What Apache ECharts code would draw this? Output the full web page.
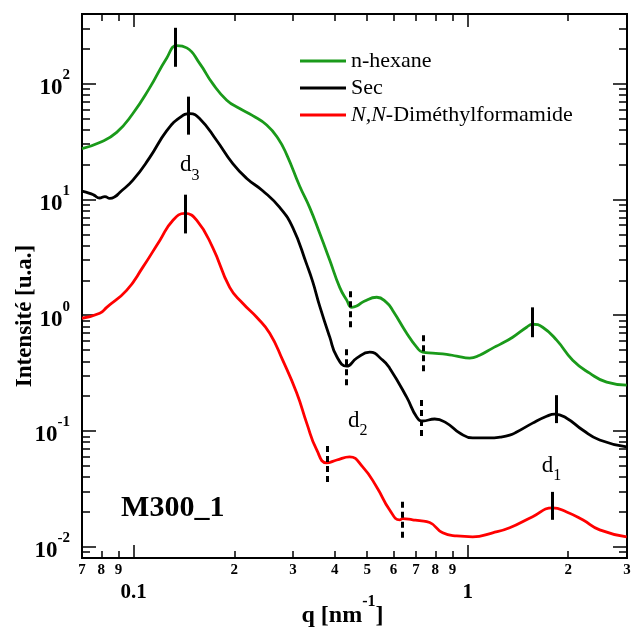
<!DOCTYPE html>
<html>
<head>
<meta charset="utf-8">
<script src="https://cdn.jsdelivr.net/npm/echarts@6/dist/echarts.min.js"></script>
<style>
html,body{margin:0;padding:0;background:#fff;}
#chart{width:631px;height:629px;}
</style>
</head>
<body>
<div id="chart"></div>
<script>
// ---- data ----
const seriesNames = ['n-hexane', 'Sec', 'N,N-Diméthylformamide'];

const qHexane = [0.0700, 0.0791, 0.0889, 0.0993, 0.1116, 0.1256, 0.1345, 0.1441, 0.1577, 0.1724, 0.1899, 0.2076, 0.2271, 0.2501, 0.2700, 0.2871, 0.3141, 0.3365, 0.3605, 0.3862, 0.4138, 0.4343, 0.4496, 0.4650, 0.4900, 0.5343, 0.5700, 0.5964, 0.6567, 0.7035, 0.7332, 0.7856, 0.8651, 0.9270, 1.014, 1.086, 1.188, 1.250, 1.364, 1.502, 1.565, 1.677, 1.847, 2.063, 2.319, 2.608, 2.993];
const iHexane = [27.5, 31, 38, 55, 92, 167, 213, 204, 149, 100, 72, 61, 53, 44, 34, 24.4, 13, 8.5, 5.1, 3.0, 1.74, 1.35, 1.17, 1.20, 1.32, 1.43, 1.30, 1.10, 0.70, 0.53, 0.48, 0.47, 0.46, 0.443, 0.426, 0.452, 0.52, 0.56, 0.646, 0.788, 0.836, 0.788, 0.609, 0.409, 0.316, 0.264, 0.249];

const qSec = [0.0700, 0.0738, 0.0760, 0.0790, 0.0820, 0.0848, 0.0880, 0.0908, 0.0993, 0.1116, 0.1256, 0.1374, 0.1472, 0.1577, 0.1772, 0.1980, 0.2180, 0.2433, 0.2736, 0.2992, 0.3296, 0.3435, 0.3605, 0.3862, 0.4055, 0.4343, 0.4653, 0.5090, 0.5566, 0.5841, 0.6567, 0.7035, 0.7332, 0.7966, 0.8651, 0.9465, 1.035, 1.164, 1.250, 1.336, 1.402, 1.565, 1.724, 1.822, 1.979, 2.210, 2.485, 2.993];
const iSec = [11.8, 11.3, 10.9, 10.3, 10.6, 10.2, 10.6, 11.5, 14.6, 23.0, 39.3, 50.9, 55.1, 49.9, 32.3, 20.4, 15.2, 11.9, 8.53, 5.74, 2.75, 1.95, 1.2, 0.65, 0.44, 0.363, 0.426, 0.48, 0.409, 0.349, 0.196, 0.132, 0.122, 0.127, 0.117, 0.0961, 0.0871, 0.0871, 0.0885, 0.092, 0.098, 0.117, 0.134, 0.140, 0.129, 0.102, 0.0836, 0.0728];

const qDmf = [0.0700, 0.0791, 0.0830, 0.0952, 0.1064, 0.1197, 0.1309, 0.1422, 0.1545, 0.1723, 0.1938, 0.2120, 0.2335, 0.2554, 0.2793, 0.3077, 0.3296, 0.3532, 0.3784, 0.4055, 0.4431, 0.4848, 0.5339, 0.5841, 0.6257, 0.6390, 0.6844, 0.7180, 0.7695, 0.8418, 0.9270, 1.035, 1.188, 1.336, 1.565, 1.797, 1.979, 2.210, 2.485, 2.993];
const iDmf = [0.942, 1.04, 1.17, 1.64, 2.59, 4.43, 6.59, 7.57, 6.59, 3.86, 1.74, 1.27, 0.961, 0.70, 0.409, 0.213, 0.117, 0.0686, 0.053, 0.0562, 0.0597, 0.049, 0.0329, 0.0208, 0.0171, 0.0175, 0.0171, 0.0168, 0.0162, 0.0132, 0.0124, 0.0122, 0.0132, 0.0146, 0.0182, 0.0217, 0.0200, 0.0171, 0.0140, 0.0122];

// peak markers (solid) and minimum markers (dashed)
const peakQ    = [0.1327, 0.1461, 0.1422, 1.565, 1.847, 1.797];
const peakLow  = [140, 36.3, 5.09, 0.646, 0.117, 0.0171];
const peakHigh = [304, 77.3, 11.0, 1.17, 0.204, 0.0298];
const minQ     = [0.4461, 0.4343, 0.381, 0.738, 0.728, 0.639];
const minLow   = [0.788, 0.249, 0.0363, 0.329, 0.0906, 0.01196];
const minHigh  = [1.71, 0.551, 0.0788, 0.713, 0.196, 0.0254];

// annotations
const noteText = ['{d|d}{s|3}', '{d|d}{s|2}', '{d|d}{s|1}'];
const noteQ = [0.1472, 0.4686, 1.783];
const noteI = [18.5, 0.115, 0.047];
const sampleLabel = 'M300_1';
const sampleQ = 0.1309, sampleI = 0.0217;

// axes
const xMin = 0.07, xMax = 3;
const yMin = 0.008, yMax = 400;
const xMajorTicks = [0.1, 1];
const xMajorLabels = ['0.1', '1'];
const xMinorTicks = [0.07, 0.08, 0.09, 0.2, 0.3, 0.4, 0.5, 0.6, 0.7, 0.8, 0.9, 2, 3];
const xMinorLabels = ['7', '8', '9', '2', '3', '4', '5', '6', '7', '8', '9', '2', '3'];
const yMajorTicks = [0.01, 0.1, 1, 10, 100];
const yMajorExp = ['-2', '-1', '0', '1', '2'];
const yMinorTicks = [0.008, 0.009];
[0.01, 0.1, 1, 10, 100].forEach(function (d) {
  for (let k = 2; k <= 9; k++) { const v = +(d * k).toPrecision(3); if (v < yMax) yMinorTicks.push(v); }
});
const xTitle = '{t|q [nm}{s|-1}{t|]}';
const yTitle = 'Intensité [u.a.]';

const colors = ['#1a9a1a', '#000000', '#ff0000'];
const FONT = "'Liberation Serif','Times New Roman',serif";

function pairs(qs, is) { return qs.map(function (q, i) { return [q, is[i]]; }); }
function lookup(vals, labels, v) {
  let best = 0, bd = Infinity;
  vals.forEach(function (t, i) { const d = Math.abs(Math.log(t) - Math.log(v)); if (d < bd) { bd = d; best = i; } });
  return labels[best];
}

const axisLine = { show: true, onZero: false, lineStyle: { color: '#000', width: 2 } };

function xAx(pos, ticks, len, labelOn, labelCfg) {
  return {
    type: 'log', logBase: 10, min: xMin, max: xMax, position: pos,
    axisLine: axisLine, splitLine: { show: false }, minorTick: { show: false },
    axisTick: { show: true, inside: true, length: len, customValues: ticks, lineStyle: { color: '#000', width: 1.5 } },
    axisLabel: labelOn ? labelCfg : { show: false }
  };
}
function yAx(pos, ticks, len, labelOn, labelCfg, extra) {
  const a = {
    type: 'log', logBase: 10, min: yMin, max: yMax, position: pos,
    axisLine: axisLine, splitLine: { show: false }, minorTick: { show: false },
    axisTick: { show: true, inside: true, length: len, customValues: ticks, lineStyle: { color: '#000', width: 1.5 } },
    axisLabel: labelOn ? labelCfg : { show: false }
  };
  return Object.assign(a, extra || {});
}

const xAxes = [
  Object.assign(xAx('bottom', xMajorTicks, 13, true, {
    show: true, customValues: xMajorTicks, margin: 24, showMinLabel: true, showMaxLabel: true,
    formatter: function (v) { return lookup(xMajorTicks, xMajorLabels, v); },
    fontFamily: FONT, fontWeight: 'bold', fontSize: 21, color: '#000'
  }), {
    name: xTitle, nameLocation: 'middle', nameGap: 36, nameMoveOverlap: false,
    nameTextStyle: {
      padding: [0, 24, 0, 0],
      rich: {
        t: { fontFamily: FONT, fontWeight: 'bold', fontSize: 24, color: '#000', padding: [10, 0, 0, 0] },
        s: { fontFamily: FONT, fontWeight: 'bold', fontSize: 16, color: '#000', verticalAlign: 'top' }
      }
    }
  }),
  xAx('bottom', xMinorTicks, 7, true, {
    show: true, customValues: xMinorTicks, margin: 5, showMinLabel: true, showMaxLabel: true, hideOverlap: false,
    formatter: function (v) { return lookup(xMinorTicks, xMinorLabels, v); },
    fontFamily: FONT, fontWeight: 'bold', fontSize: 15, color: '#000'
  }),
  xAx('top', xMajorTicks, 13, false),
  xAx('top', xMinorTicks, 7, false)
];

const yAxes = [
  yAx('left', yMajorTicks, 14, true, {
    show: true, customValues: yMajorTicks, margin: 12, showMinLabel: true, showMaxLabel: true,
    formatter: function (v) { return '{b|10}{s|' + lookup(yMajorTicks, yMajorExp, v) + '}'; },
    rich: {
      b: { fontFamily: FONT, fontWeight: 'bold', fontSize: 23, color: '#000', padding: [9, 0, 0, 0] },
      s: { fontFamily: FONT, fontWeight: 'bold', fontSize: 15, color: '#000', verticalAlign: 'top' }
    }
  }, {
    name: yTitle, nameLocation: 'middle', nameGap: 45, nameRotate: 90, nameMoveOverlap: false,
    nameTextStyle: { fontFamily: FONT, fontWeight: 'bold', fontSize: 23, color: '#000', padding: [0, 60, 0, 0] }
  }),
  yAx('left', yMinorTicks, 8, false),
  yAx('right', yMajorTicks, 14, false),
  yAx('right', yMinorTicks, 8, false)
];

const curveSeries = [[qHexane, iHexane], [qSec, iSec], [qDmf, iDmf]].map(function (d, k) {
  return {
    name: seriesNames[k], type: 'line', xAxisIndex: 0, yAxisIndex: 0,
    data: pairs(d[0], d[1]), smooth: 0.5, smoothConstraint: false, showSymbol: false, symbol: 'none',
    lineStyle: { color: colors[k], width: 2.8 }, itemStyle: { color: colors[k] },
    z: 3, animation: false
  };
});

const markerSeries = {
  name: 'markers', type: 'line', data: [], xAxisIndex: 0, yAxisIndex: 0, z: 5, animation: false,
  markLine: {
    silent: true, symbol: ['none', 'none'], label: { show: false }, animation: false,
    data: peakQ.map(function (q, i) {
      return [{ coord: [q, peakLow[i]], lineStyle: { color: '#000', width: 3, type: 'solid' } }, { coord: [q, peakHigh[i]] }];
    }).concat(minQ.map(function (q, i) {
      return [{ coord: [q, minLow[i]], lineStyle: { color: '#000', width: 3, type: [6, 4] } }, { coord: [q, minHigh[i]] }];
    }))
  }
};

const noteSeries = {
  name: 'notes', type: 'scatter', xAxisIndex: 0, yAxisIndex: 0, symbolSize: 0, z: 6, animation: false, silent: true,
  itemStyle: { opacity: 1 },
  data: noteQ.map(function (q, i) { return { value: [q, noteI[i]], label: { formatter: noteText[i] } }; })
    .concat([{ value: [sampleQ, sampleI], label: { formatter: sampleLabel, fontFamily: FONT, fontWeight: 'bold', fontSize: 30, color: '#000' } }]),
  label: {
    show: true, position: 'inside', fontFamily: FONT, fontSize: 23, color: '#000', opacity: 1,
    rich: {
      d: { fontFamily: FONT, fontSize: 23, color: '#000', padding: [0, 0, 7, 0] },
      s: { fontFamily: FONT, fontSize: 16, color: '#000', verticalAlign: 'bottom' }
    }
  }
};

const chart = echarts.init(document.getElementById('chart'), null, { renderer: 'canvas' });
chart.setOption({
  animation: false,
  backgroundColor: '#fff',
  grid: { left: 82, top: 14, width: 545, height: 544, containLabel: false, outerBoundsMode: 'none' },
  legend: {
    data: seriesNames, orient: 'vertical', left: 295, top: 45, itemGap: 5,
    icon: 'rect', itemWidth: 46, itemHeight: 3,
    textStyle: {
      fontFamily: FONT, fontSize: 22, color: '#000', lineHeight: 22,
      rich: { i: { fontFamily: FONT, fontSize: 22, fontStyle: 'italic', color: '#000' }, r: { fontFamily: FONT, fontSize: 22, color: '#000' } }
    },
    formatter: function (n) { return n === seriesNames[2] ? '{i|N,N}{r|-Diméthylformamide}' : n; },
    selectedMode: false
  },
  xAxis: xAxes,
  yAxis: yAxes,
  series: curveSeries.concat([markerSeries, noteSeries])
});
</script>
</body>
</html>
